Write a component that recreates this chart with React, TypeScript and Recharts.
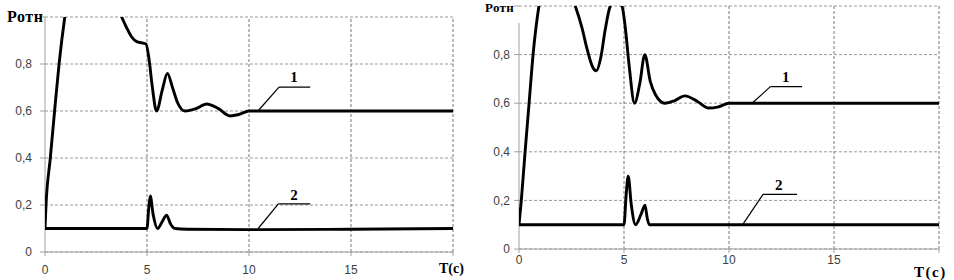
import React from 'react';
import { LineChart, Line, XAxis, YAxis, CartesianGrid, ReferenceLine, ReferenceDot } from 'recharts';

// ---------- data ----------
const xTicks = [0, 5, 10, 15, 20];
const yTicks = [0, 0.2, 0.4, 0.6, 0.8, 1.0];
const vGrid = [5, 10, 15, 20];

// left chart, curve 1
const aT1 = [0, 0.05, 0.26, 0.47, 0.69, 0.97, 1.3, 1.8, 2.4, 3.0, 3.5, 3.76, 4.0, 4.25, 4.5, 4.75, 4.95, 5.1, 5.25, 5.47, 5.75, 6.0, 6.25, 6.5, 6.86, 7.4, 7.93, 8.5, 9.07, 9.5, 10, 12, 15, 20];
const aV1 = [0.1, 0.2, 0.4, 0.6, 0.8, 1.0, 1.17, 1.26, 1.25, 1.16, 1.06, 1.0, 0.955, 0.915, 0.895, 0.89, 0.885, 0.82, 0.71, 0.6, 0.69, 0.76, 0.7, 0.635, 0.6, 0.61, 0.63, 0.61, 0.579, 0.585, 0.6, 0.6, 0.6, 0.6];
// left chart, curve 2
const aT2 = [0, 5.0, 5.08, 5.16, 5.3, 5.52, 5.75, 5.96, 6.15, 6.37, 7, 10, 15, 20];
const aV2 = [0.1, 0.1, 0.18, 0.238, 0.16, 0.1, 0.13, 0.157, 0.12, 0.1, 0.097, 0.095, 0.097, 0.1];

// right chart, curve 1
const bT1 = [0, 0.11, 0.29, 0.48, 0.67, 0.95, 1.3, 1.8, 2.3, 2.68, 3.0, 3.25, 3.5, 3.68, 3.9, 4.1, 4.35, 4.6, 4.9, 5.05, 5.25, 5.5, 5.75, 5.99, 6.25, 6.5, 6.95, 7.4, 7.9, 8.5, 9.03, 9.5, 10, 15, 20];
const bV1 = [0.1, 0.2, 0.4, 0.6, 0.8, 1.0, 1.12, 1.15, 1.08, 1.0, 0.91, 0.82, 0.75, 0.733, 0.79, 0.9, 1.0, 1.02, 1.0, 0.92, 0.75, 0.6, 0.68, 0.8, 0.69, 0.635, 0.6, 0.61, 0.63, 0.607, 0.58, 0.585, 0.6, 0.6, 0.6];
// right chart, curve 2
const bT2 = [0, 5.0, 5.1, 5.2, 5.35, 5.55, 5.8, 6.0, 6.1, 6.2, 20];
const bV2 = [0.1, 0.1, 0.22, 0.3, 0.18, 0.1, 0.14, 0.18, 0.13, 0.1, 0.1];

// annotation leaders: [startX, startY, cornerX, cornerY, endX], label [x, y]
const aLead1 = [10.44, 0.6, 11.47, 0.702, 13.0];
const aLab1 = [12.2, 0.745];
const aLead2 = [10.45, 0.1, 11.44, 0.205, 13.0];
const aLab2 = [12.2, 0.243];
const bLead1 = [11.1, 0.6, 11.97, 0.668, 13.48];
const bLab1 = [12.7, 0.71];
const bLead2 = [10.65, 0.1, 11.62, 0.225, 13.24];
const bLab2 = [12.37, 0.263];

const zip = (t: number[], v: number[]) => t.map((x, i) => ({ t: x, v: v[i] }));

const fmtY = (v: number) => (v >= 1 ? '' : v === 0 ? '0' : v.toFixed(1).replace('.', ','));
const fmtX = (v: number) => (v >= 20 ? '' : String(v));

const gray = '#a0a0a0';
const tickStyle = { fill: '#404040', fontSize: 12, fontFamily: 'Liberation Sans, Arial, sans-serif' };
const serif = 'Liberation Serif, Times New Roman, serif';

type PanelProps = {
  s1: { t: number; v: number }[];
  s2: { t: number; v: number }[];
  margin: { top: number; right: number; bottom: number; left: number };
  yWidth: number;
  xHeight: number;
  xTickMargin: number;
  yTickMargin: number;
  lead1: number[];
  lab1: number[];
  lead2: number[];
  lab2: number[];
  axisTop: number;
};

function Panel(p: PanelProps) {
  const leader = (l: number[], key: string) => [
    <ReferenceLine key={key + 'a'} segment={[{ x: l[0], y: l[1] }, { x: l[2], y: l[3] }]} stroke="#000" strokeWidth={1.2} />,
    <ReferenceLine key={key + 'b'} segment={[{ x: l[2], y: l[3] }, { x: l[4], y: l[3] }]} stroke="#000" strokeWidth={1.2} />,
  ];
  const lab = (l: number[], text: string) => (
    <ReferenceDot
      x={l[0]}
      y={l[1]}
      r={0}
      fill="none"
      stroke="none"
      label={{ value: text, position: 'center', fill: '#000', fontSize: 15, fontWeight: 'bold', fontFamily: serif }}
    />
  );
  return (
    <LineChart width={477} height={280} margin={p.margin}>
      <CartesianGrid vertical={false} stroke="#999" strokeDasharray="3 2" />
      {vGrid.map((x) => (
        <ReferenceLine key={'g' + x} x={x} stroke="#777" strokeDasharray="3 2" />
      ))}
      <XAxis
        type="number"
        dataKey="t"
        domain={[0, 20]}
        ticks={xTicks}
        tickFormatter={fmtX}
        height={p.xHeight}
        stroke={gray}
        tickSize={4}
        tickMargin={p.xTickMargin}
        tick={tickStyle}
        allowDataOverflow
      />
      <YAxis
        type="number"
        domain={[0, 1]}
        ticks={yTicks}
        tickFormatter={fmtY}
        width={p.yWidth}
        stroke={gray}
        axisLine={false}
        tickSize={5}
        tickMargin={p.yTickMargin}
        tick={tickStyle}
        allowDataOverflow
      />
      <ReferenceLine segment={[{ x: 0, y: 0 }, { x: 0, y: p.axisTop }]} stroke={gray} strokeWidth={1} />
      <Line data={p.s1} dataKey="v" type="monotone" stroke="#000" strokeWidth={2.9} dot={false} isAnimationActive={false} />
      <Line data={p.s2} dataKey="v" type="monotone" stroke="#000" strokeWidth={2.9} dot={false} isAnimationActive={false} />
      {leader(p.lead1, 'l1')}
      {leader(p.lead2, 'l2')}
      {lab(p.lab1, '1')}
      {lab(p.lab2, '2')}
    </LineChart>
  );
}

export default function App() {
  return (
    <div style={{ position: 'absolute', left: 0, top: 0, width: 954, height: 280, background: '#fff' }}>
      <div style={{ position: 'absolute', left: 0, top: 0 }}>
        <Panel
          s1={zip(aT1, aV1)}
          s2={zip(aT2, aV2)}
          margin={{ top: 17, right: 24, bottom: 0, left: 0 }}
          yWidth={45}
          xHeight={28}
          xTickMargin={9}
          yTickMargin={8}
          lead1={aLead1}
          lab1={aLab1}
          lead2={aLead2}
          lab2={aLab2}
          axisTop={1}
        />
      </div>
      <div style={{ position: 'absolute', left: 477, top: 0 }}>
        <Panel
          s1={zip(bT1, bV1)}
          s2={zip(bT2, bV2)}
          margin={{ top: 6, right: 15, bottom: 0, left: 0 }}
          yWidth={42}
          xHeight={31}
          xTickMargin={2}
          yTickMargin={4}
          lead1={bLead1}
          lab1={bLab1}
          lead2={bLead2}
          lab2={bLab2}
          axisTop={0.93}
        />
      </div>
      <svg width={954} height={280} style={{ position: 'absolute', left: 0, top: 0, pointerEvents: 'none' }}>
        <text x={7} y={22} fontFamily={serif} fontWeight="bold" fontSize={16} letterSpacing={0.6} fill="#000">Ротн</text>
        <text x={439} y={273} fontFamily={serif} fontWeight="bold" fontSize={14} fill="#000">T(с)</text>
        <text x={485} y={12} fontFamily={serif} fontWeight="bold" fontSize={13} letterSpacing={0.3} fill="#000">Ротн</text>
        <text x={914} y={277} fontFamily={serif} fontWeight="bold" fontSize={15} letterSpacing={1.5} fill="#000">T(с)</text>
      </svg>
    </div>
  );
}
